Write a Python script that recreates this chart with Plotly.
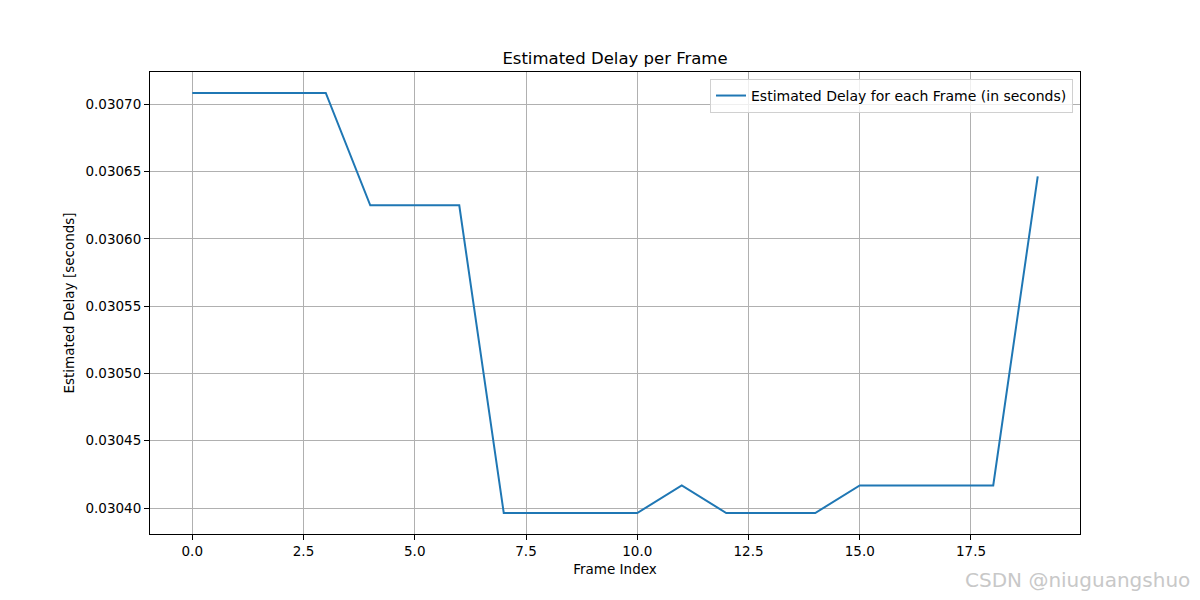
import plotly.graph_objects as go

frames = list(range(20))
delays = [0.0307084, 0.0307084, 0.0307084, 0.0307084,
          0.0306249, 0.0306249, 0.0306249,
          0.0303963, 0.0303963, 0.0303963, 0.0303963,
          0.0304168,
          0.0303963, 0.0303963, 0.0303963,
          0.0304168, 0.0304168, 0.0304168, 0.0304168,
          0.0306464]

title = "Estimated Delay per Frame"
series_name = "Estimated Delay for each Frame (in seconds)"
x_label = "Frame Index"
y_label = "Estimated Delay [seconds]"
watermark = "CSDN @niuguangshuo"

font = "DejaVu Sans"

fig = go.Figure()
fig.add_trace(go.Scatter(x=frames, y=delays, mode="lines", name=series_name,
                         line=dict(color="#1f77b4", width=2)))

fig.update_layout(
    width=1200, height=600,
    paper_bgcolor="white", plot_bgcolor="white",
    margin=dict(l=142, r=128, t=64, b=74),
    font=dict(family=font, size=13.5, color="black"),
    title=dict(text=title, x=0.5, xref="paper", xanchor="center",
               y=1 - 50 / 600, yanchor="middle", font=dict(size=16.5, family=font)),
    showlegend=True,
    legend=dict(x=0.9925, y=0.985, xanchor="right", yanchor="top",
                bgcolor="rgba(255,255,255,0.8)", bordercolor="#d0d0d0", borderwidth=1,
                font=dict(size=14, family=font)),
)

fig.update_xaxes(range=[-0.95, 19.95], dtick=2.5, tick0=0, tickformat=".1f",
                 showgrid=True, gridcolor="#b0b0b0", gridwidth=1,
                 showline=True, linecolor="black", linewidth=1, mirror=True,
                 ticks="outside", ticklen=5, tickcolor="black", zeroline=False,
                 title=dict(text=x_label, font=dict(size=13.5), standoff=6))
fig.update_yaxes(range=[0.0303807, 0.030724], dtick=0.00005, tick0=0.0304, tickformat=".5f",
                 showgrid=True, gridcolor="#b0b0b0", gridwidth=1,
                 showline=True, linecolor="black", linewidth=1, mirror=True,
                 ticks="outside", ticklen=5, tickcolor="black", zeroline=False,
                 title=dict(text=y_label, font=dict(size=13.5), standoff=7))

fig.add_annotation(text=watermark, xref="paper", yref="paper", x=(963 - 150) / 930,
                   xanchor="left", y=0, yanchor="middle", yshift=-46,
                   showarrow=False, font=dict(size=20, color="#c8c8c8", family=font))

fig.write_html("out.html")
